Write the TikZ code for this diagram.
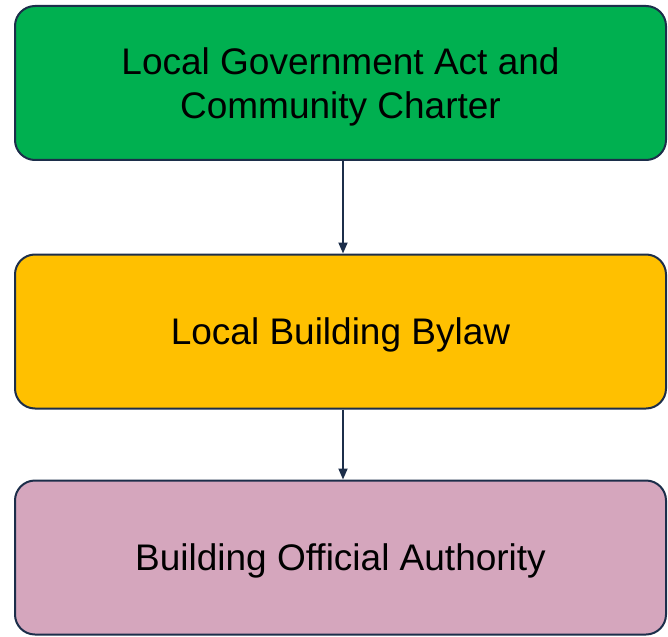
\documentclass[tikz,border=0pt]{standalone}
\usepackage{fontspec}
\setmainfont{Liberation Sans}
\usepackage{tikz}
\usetikzlibrary{arrows.meta,backgrounds,calc}
\definecolor{boxline}{HTML}{1C2E4A}
\definecolor{actgreen}{HTML}{00B050}
\definecolor{bylawyellow}{HTML}{FFC000}
\definecolor{officialpink}{HTML}{D5A6BD}
\tikzset{
  levelbox/.style={draw=boxline, line width=2pt, rounded corners=20pt,
    minimum width=651pt, minimum height=154pt, align=center,
    text depth=0pt, font=\fontsize{37}{44}\selectfont},
  levelarrow/.style={draw=boxline, line width=1.8pt,
    -{Triangle[length=11pt,width=9pt]}}
}

\begin{document}
\begin{tikzpicture}[x=1pt,y=-1pt]
\useasboundingbox (0,0) rectangle (668,636);
\node[levelbox, fill=actgreen] (act) at (340.5,83) {Local Government Act and\\Community Charter};
\node[levelbox, fill=bylawyellow] (bylaw) at (340.5,331.5) {Local Building Bylaw};
\node[levelbox, fill=officialpink] (official) at (340.5,557.5) {Building Official Authority};
\draw[levelarrow] ([xshift=2.5pt]act.south) -- ([xshift=2.5pt]bylaw.north);
\draw[levelarrow] ([xshift=2.5pt]bylaw.south) -- ([xshift=2.5pt]official.north);
\end{tikzpicture}
\end{document}
